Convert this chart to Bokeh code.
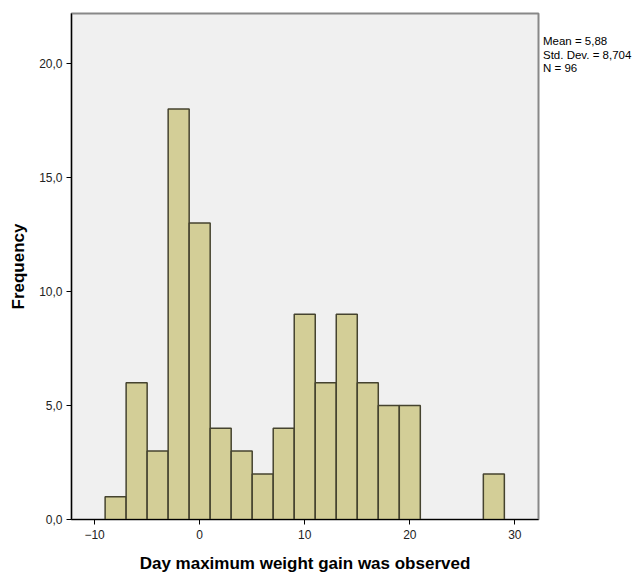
from bokeh.plotting import figure
from bokeh.models import ColumnDataSource, Range1d, FixedTicker, CustomJSTickFormatter, Div
from bokeh.layouts import row
from bokeh.embed import file_html
from bokeh.resources import INLINE

bin_left = [-9, -7, -5, -3, -1, 1, 3, 5, 7, 9, 11, 13, 15, 17, 19, 21, 23, 25, 27]
bin_right = [-7, -5, -3, -1, 1, 3, 5, 7, 9, 11, 13, 15, 17, 19, 21, 23, 25, 27, 29]
counts = [1, 6, 3, 18, 13, 4, 3, 2, 4, 9, 6, 9, 6, 5, 5, 0, 0, 0, 2]
x_ticks = [-10, 0, 10, 20, 30]
y_ticks = [0, 5, 10, 15, 20]
stats_lines = ["Mean = 5,88", "Std. Dev. = 8,704", "N = 96"]

FONT = "Liberation Sans"

keep = [i for i, c in enumerate(counts) if c > 0]
src = ColumnDataSource(dict(
    left=[bin_left[i] for i in keep],
    right=[bin_right[i] for i in keep],
    top=[counts[i] for i in keep],
    bottom=[0] * len(keep),
))

p = figure(frame_width=467, frame_height=506, output_backend="svg", toolbar_location=None,
           x_range=Range1d(-12.2, 32.25), y_range=Range1d(0, 22.19),
           min_border_left=71, min_border_right=5, min_border_top=13, min_border_bottom=47)

p.background_fill_color = "#f0f0f0"
p.border_fill_color = "white"
p.outline_line_color = "#888888"
p.outline_line_width = 2
p.xgrid.visible = False
p.ygrid.visible = False

p.quad(left="left", right="right", top="top", bottom="bottom", source=src,
       fill_color="#d3ce97", line_color="#45432f", line_width=1.5)

for ax in (p.xaxis[0], p.yaxis[0]):
    ax.axis_line_color = "black"
    ax.axis_line_width = 1.2
    ax.major_tick_line_color = "black"
    ax.major_tick_out = 5
    ax.major_tick_in = 0
    ax.minor_tick_line_color = None
    ax.major_label_text_font = FONT
    ax.major_label_text_font_size = "12px"
    ax.major_label_text_color = "#222222"
    ax.axis_label_text_font = FONT
    ax.axis_label_text_font_style = "bold"
    ax.axis_label_text_color = "black"
    ax.axis_label_text_font_size = "17px"

p.xaxis.ticker = FixedTicker(ticks=x_ticks)
p.yaxis.ticker = FixedTicker(ticks=y_ticks)
p.yaxis.formatter = CustomJSTickFormatter(code="return tick.toFixed(1).replace('.', ',');")
p.xaxis.axis_label = "Day maximum weight gain was observed"
p.yaxis.axis_label = "Frequency"
p.xaxis.major_label_standoff = 5
p.yaxis.major_label_standoff = 4
p.xaxis.axis_label_standoff = 12
p.yaxis.axis_label_standoff = 8

stats_html = "<br>".join(stats_lines)
div = Div(text=(f'<div style="font-family:\'{FONT}\';font-size:11.5px;line-height:13.5px;'
                f'color:black;padding-top:35px;white-space:nowrap;">{stats_html}</div>'),
          width=93, height=100, margin=(0, 0, 0, 0))

layout = row(p, div)
open("out.html", "w").write(file_html(layout, INLINE))
